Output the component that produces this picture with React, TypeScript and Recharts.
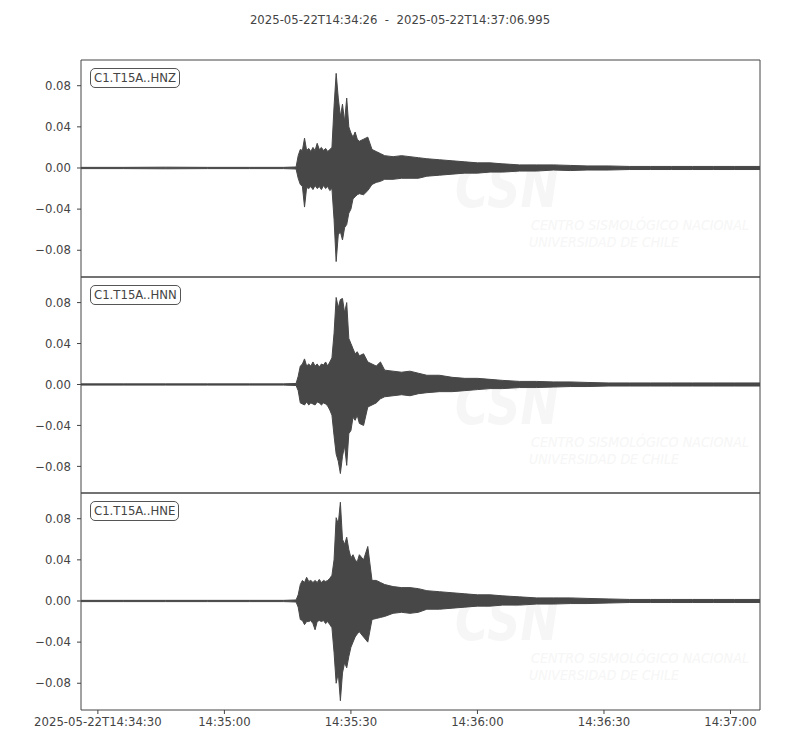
import { Area, ComposedChart, ReferenceArea, XAxis, YAxis } from "recharts";

const TITLE = "2025-05-22T14:34:26  -  2025-05-22T14:37:06.995";

// seconds after 14:34:26 (denser where the shaking is)
const TIMES = [
  0, 10, 20, 30, 40, 48,
  51, 51.5, 52, 52.5, 53, 53.5, 54, 54.5, 55, 55.5,
  56, 56.5, 57, 57.5, 58, 58.5, 59, 59.5, 60, 60.5,
  61, 61.5, 62, 62.5, 63, 63.5, 64, 64.5, 65, 65.5,
  66, 67, 68, 69, 70, 71, 72,
  74, 76, 78, 80, 82, 85, 88, 91, 94, 97,
  100, 104, 108, 112, 116, 120, 125, 130, 135, 140,
  145, 150, 155, 161,
];

// envelope (max / min per sample)
const HNZ_HI = [
  0.0006, 0.0006, 0.0008, 0.0006, 0.0006, 0.0006,
  0.001, 0.012, 0.018, 0.017, 0.029, 0.017, 0.019, 0.016, 0.02, 0.017,
  0.024, 0.018, 0.02, 0.017, 0.019, 0.016, 0.018, 0.02, 0.06, 0.092,
  0.068, 0.05, 0.062, 0.045, 0.068, 0.04, 0.034, 0.03, 0.035, 0.028,
  0.026, 0.028, 0.03, 0.018, 0.016, 0.014, 0.012,
  0.011, 0.012, 0.011, 0.01, 0.009, 0.008, 0.007, 0.006, 0.005, 0.005,
  0.004, 0.003, 0.003, 0.003, 0.0025, 0.002, 0.002, 0.0015, 0.0015, 0.0015,
  0.0015, 0.0015, 0.0015, 0.0015,
];
const HNZ_LO = [
  -0.0006, -0.0006, -0.0008, -0.0006, -0.0006, -0.0006,
  -0.001, -0.01, -0.016, -0.018, -0.038, -0.019, -0.02, -0.018, -0.021, -0.017,
  -0.02, -0.018, -0.021, -0.017, -0.02, -0.018, -0.022, -0.02, -0.05, -0.091,
  -0.065, -0.062, -0.07, -0.058, -0.055, -0.044, -0.04, -0.03, -0.028, -0.026,
  -0.025, -0.026, -0.022, -0.016, -0.014, -0.013, -0.011,
  -0.011, -0.01, -0.01, -0.01, -0.008, -0.007, -0.006, -0.005, -0.005, -0.004,
  -0.004, -0.003, -0.003, -0.002, -0.0025, -0.002, -0.002, -0.0015, -0.0015, -0.0015,
  -0.0015, -0.0015, -0.0015, -0.0015,
];

const HNN_HI = [
  0.0006, 0.0006, 0.0006, 0.0006, 0.0006, 0.0006,
  0.001, 0.008, 0.018, 0.02, 0.025, 0.018, 0.02, 0.018, 0.022, 0.018,
  0.02, 0.017, 0.02, 0.019, 0.022, 0.018, 0.022, 0.026, 0.05, 0.085,
  0.075, 0.083, 0.084, 0.07, 0.08, 0.045, 0.04, 0.035, 0.03, 0.032,
  0.028, 0.03, 0.022, 0.02, 0.018, 0.022, 0.014,
  0.013, 0.012, 0.013, 0.011, 0.009, 0.009, 0.007, 0.006, 0.006, 0.005,
  0.004, 0.003, 0.003, 0.0025, 0.0025, 0.002, 0.0015, 0.0015, 0.0015, 0.0015,
  0.0015, 0.0015, 0.0015, 0.0015,
];
const HNN_LO = [
  -0.0006, -0.0006, -0.0006, -0.0006, -0.0006, -0.0006,
  -0.001, -0.006, -0.018, -0.019, -0.02, -0.017, -0.02, -0.018, -0.019, -0.02,
  -0.017, -0.018, -0.02, -0.018, -0.019, -0.021, -0.025, -0.03, -0.05, -0.068,
  -0.075, -0.087, -0.07, -0.06, -0.079, -0.048, -0.045, -0.032, -0.035, -0.03,
  -0.038, -0.04, -0.022, -0.02, -0.018, -0.014, -0.012,
  -0.011, -0.01, -0.011, -0.009, -0.008, -0.007, -0.007, -0.006, -0.005, -0.004,
  -0.004, -0.003, -0.003, -0.0025, -0.002, -0.002, -0.0015, -0.0015, -0.0015, -0.0015,
  -0.0015, -0.0015, -0.0015, -0.0015,
];

const HNE_HI = [
  0.0006, 0.0006, 0.0006, 0.0006, 0.0006, 0.0006,
  0.001, 0.006, 0.016, 0.02, 0.018, 0.023, 0.019, 0.02, 0.018, 0.02,
  0.018, 0.021, 0.018, 0.02, 0.019, 0.02, 0.022, 0.025, 0.04, 0.081,
  0.075, 0.096, 0.06, 0.055, 0.062, 0.05, 0.042, 0.045, 0.04, 0.038,
  0.045, 0.04, 0.053, 0.02, 0.02, 0.018, 0.016,
  0.014, 0.013, 0.013, 0.012, 0.01, 0.009, 0.008, 0.007, 0.006, 0.006,
  0.005, 0.004, 0.003, 0.003, 0.003, 0.0025, 0.002, 0.0015, 0.0015, 0.0015,
  0.0015, 0.0015, 0.0015, 0.0015,
];
const HNE_LO = [
  -0.0006, -0.0006, -0.0006, -0.0006, -0.0006, -0.0006,
  -0.001, -0.006, -0.018, -0.019, -0.023, -0.02, -0.02, -0.019, -0.022, -0.028,
  -0.02, -0.019, -0.02, -0.019, -0.022, -0.02, -0.023, -0.026, -0.05, -0.08,
  -0.07, -0.097, -0.07, -0.06, -0.065, -0.054, -0.045, -0.04, -0.035, -0.032,
  -0.03, -0.035, -0.04, -0.018, -0.017, -0.016, -0.015,
  -0.012, -0.011, -0.012, -0.011, -0.008, -0.008, -0.007, -0.006, -0.005, -0.005,
  -0.004, -0.004, -0.003, -0.003, -0.0025, -0.0025, -0.002, -0.0015, -0.0015, -0.0015,
  -0.0015, -0.0015, -0.0015, -0.0015,
];

const X_TICKS = [4, 34, 64, 94, 124, 154];
const X_TICK_LABELS = [
  "2025-05-22T14:34:30",
  "14:35:00",
  "14:35:30",
  "14:36:00",
  "14:36:30",
  "14:37:00",
];
const Y_TICKS = [-0.08, -0.04, 0, 0.04, 0.08];
const X_DOMAIN: [number, number] = [0, 160.995];
const Y_DOMAIN: [number, number] = [-0.106, 0.105];

const INK = "#444";
const TRACE = "#474747";
const FAINT = "#f6f6f6";
const FONT = "'DejaVu Sans', sans-serif";
const FS = 11.7;

function fmtY(v: number) {
  const s = Math.abs(v).toFixed(2);
  return v < 0 ? `\u2212${s}` : s;
}

function fmtX(v: number) {
  return X_TICK_LABELS[X_TICKS.indexOf(v)] ?? "";
}

// faint CSN logo behind each trace
function Watermark({ off }: { off: number }) {
  return (
    <g fill={FAINT} fontFamily={FONT} fontStyle="italic">
      <text x={455} y={207 + off} fontSize={58} fontWeight="bold" textLength={104} lengthAdjust="spacingAndGlyphs">
        CSN
      </text>
      <text x={531} y={230 + off} fontSize={14} textLength={218} lengthAdjust="spacingAndGlyphs">
        CENTRO SISMOLÓGICO NACIONAL
      </text>
      <text x={529} y={247 + off} fontSize={14} textLength={150} lengthAdjust="spacingAndGlyphs">
        UNIVERSIDAD DE CHILE
      </text>
    </g>
  );
}

type PanelProps = {
  label: string;
  hi: number[];
  lo: number[];
  top: number;
  height: number;
  showX?: boolean;
};

function Panel({ label, hi, lo, top, height, showX = false }: PanelProps) {
  const data = TIMES.map((t, i) => ({ t, band: [lo[i], hi[i]] }));
  const axisH = showX ? 30 : 0;

  return (
    <div style={{ position: "absolute", left: 0, top: top - 5, width: 800 }}>
      <ComposedChart
        width={800}
        height={height + 10 + axisH}
        data={data}
        margin={{ top: 5, right: 40, bottom: 5, left: 0 }}
      >
        <XAxis
          type="number"
          dataKey="t"
          domain={X_DOMAIN}
          allowDataOverflow
          ticks={X_TICKS}
          tickFormatter={fmtX}
          hide={!showX}
          height={axisH}
          axisLine={false}
          tickLine={{ stroke: INK }}
          tickSize={4}
          tickMargin={4}
          tick={{ fill: INK, fontSize: FS, fontFamily: FONT }}
        />
        <YAxis
          type="number"
          domain={Y_DOMAIN}
          allowDataOverflow
          ticks={Y_TICKS}
          tickFormatter={fmtY}
          width={81}
          axisLine={false}
          tickLine={{ stroke: INK }}
          tickSize={4}
          tickMargin={6}
          tick={{ fill: INK, fontSize: FS, fontFamily: FONT }}
        />
        <Area
          dataKey="band"
          type="linear"
          stroke={TRACE}
          strokeWidth={1}
          fill={TRACE}
          fillOpacity={1}
          dot={false}
          activeDot={false}
          isAnimationActive={false}
        />
        <ReferenceArea
          x1={X_DOMAIN[0]}
          x2={X_DOMAIN[1]}
          y1={Y_DOMAIN[0]}
          y2={Y_DOMAIN[1]}
          fill="none"
          stroke={INK}
          strokeWidth={1}
          ifOverflow="visible"
        />
      </ComposedChart>
      <div
        style={{
          position: "absolute",
          left: 90,
          top: 5 + 8,
          padding: "2px 3px",
          lineHeight: "14px",
          border: "1px solid #555",
          borderRadius: 5,
          background: "#fff",
          color: INK,
          fontSize: FS,
          fontFamily: FONT,
          whiteSpace: "nowrap",
        }}
      >
        {label}
      </div>
    </div>
  );
}

export default function App() {
  return (
    <div style={{ position: "relative", width: 800, height: 750, background: "#fff", fontFamily: FONT }}>
      <style>{"body{margin:0}"}</style>
      <svg width={800} height={750} style={{ position: "absolute", left: 0, top: 0 }}>
        <Watermark off={0} />
        <Watermark off={217} />
        <Watermark off={433} />
      </svg>
      <div
        style={{
          position: "absolute",
          top: 13,
          left: 0,
          width: 800,
          textAlign: "center",
          fontSize: FS,
          color: INK,
          whiteSpace: "pre",
        }}
      >
        {TITLE}
      </div>
      <Panel label="C1.T15A..HNZ" hi={HNZ_HI} lo={HNZ_LO} top={60} height={217} />
      <Panel label="C1.T15A..HNN" hi={HNN_HI} lo={HNN_LO} top={277} height={216} />
      <Panel label="C1.T15A..HNE" hi={HNE_HI} lo={HNE_LO} top={493} height={217} showX />
    </div>
  );
}
